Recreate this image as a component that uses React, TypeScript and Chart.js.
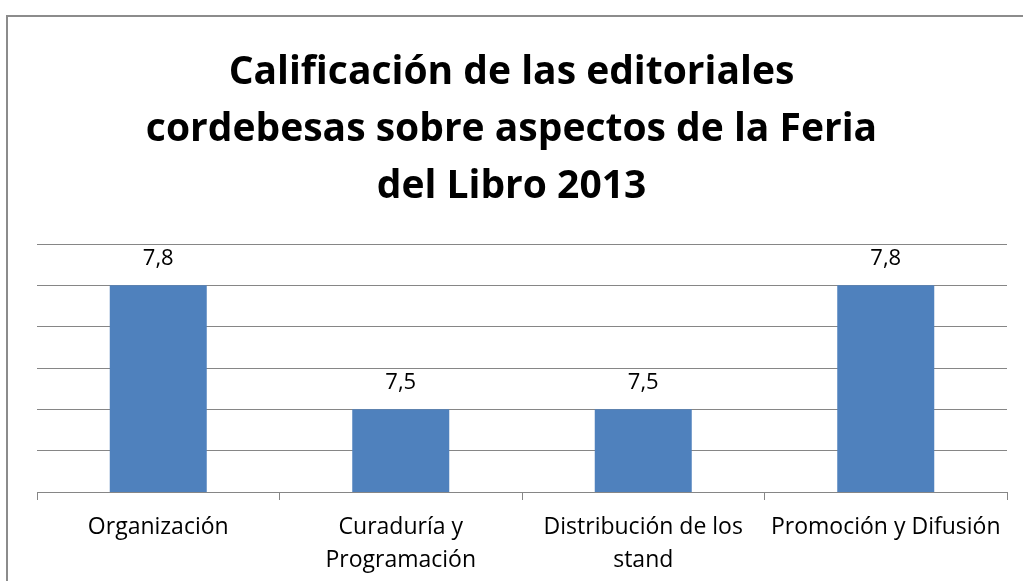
import React, { useEffect, useRef } from "react";
import { Chart, registerables } from "chart.js";

Chart.register(...registerables);

const titleLines = [
  "Calificación de las editoriales",
  "cordebesas sobre aspectos de la Feria",
  "del Libro 2013",
];
const categories: (string | string[])[] = [
  "Organización",
  ["Curaduría y", "Programación"],
  ["Distribución de los", "stand"],
  "Promoción y Difusión",
];
const values = [7.8, 7.5, 7.5, 7.8];
const yMin = 7.3;
const yMax = 7.9;
const yStep = 0.1;

const FONT = "'Open Sans', 'Noto Sans', sans-serif";
const GRAY = "#868686";

const valueLabels = {
  id: "valueLabels",
  afterDatasetsDraw(chart: any) {
    const ctx = chart.ctx;
    const meta = chart.getDatasetMeta(0);
    ctx.save();
    ctx.font = `22px ${FONT}`;
    ctx.fillStyle = "#000";
    ctx.textAlign = "center";
    ctx.textBaseline = "middle";
    meta.data.forEach((bar: any, i: number) => {
      const v = chart.data.datasets[0].data[i] as number;
      ctx.fillText(v.toFixed(1).replace(".", ","), bar.x, bar.y - 27);
    });
    ctx.restore();
  },
};

export default function App() {
  const ref = useRef<HTMLCanvasElement>(null);
  useEffect(() => {
    if (!ref.current) return;
    const chart = new Chart(ref.current, {
      type: "bar",
      data: {
        labels: categories,
        datasets: [
          {
            data: values,
            backgroundColor: "#4F81BD",
            categoryPercentage: 1,
            barPercentage: 0.4,
          },
        ],
      },
      options: {
        animation: false,
        responsive: false,
        layout: { padding: { left: 16, right: 16, top: 0, bottom: -7 } },
        plugins: {
          legend: { display: false },
          tooltip: { enabled: false },
          title: {
            display: true,
            text: titleLines,
            color: "#000",
            font: { family: FONT, size: 39, weight: "bold", lineHeight: "57px" },
            padding: { top: 44, bottom: 29 },
          },
        },
        scales: {
          x: {
            grid: {
              display: true,
              drawOnChartArea: false,
              drawTicks: true,
              tickLength: 8,
              color: GRAY,
            },
            border: { display: true, color: GRAY, width: 1 },
            ticks: {
              color: "#000",
              font: { family: FONT, size: 23, lineHeight: "33px" },
              padding: 11,
              maxRotation: 0,
              autoSkip: false,
            },
          },
          y: {
            min: yMin,
            max: yMax,
            afterFit: (scale: any) => {
              scale.width = 21;
            },
            ticks: { display: false, stepSize: yStep },
            grid: { color: GRAY, drawTicks: false, lineWidth: 1 },
            border: { display: false },
          },
        },
      },
      plugins: [valueLabels],
    });
    return () => chart.destroy();
  }, []);
  return (
    <div style={{ position: "fixed", left: 0, top: 0, width: 1023, height: 581, background: "#fff", overflow: "hidden" }}>
      <div
        style={{
          position: "absolute",
          left: 6,
          top: 15,
          width: 1200,
          height: 800,
          border: "2px solid #8c8c8c",
          boxSizing: "border-box",
        }}
      />
      <canvas ref={ref} width={1023} height={581} style={{ position: "absolute", left: 0, top: 0, width: 1023, height: 581 }} />
    </div>
  );
}
